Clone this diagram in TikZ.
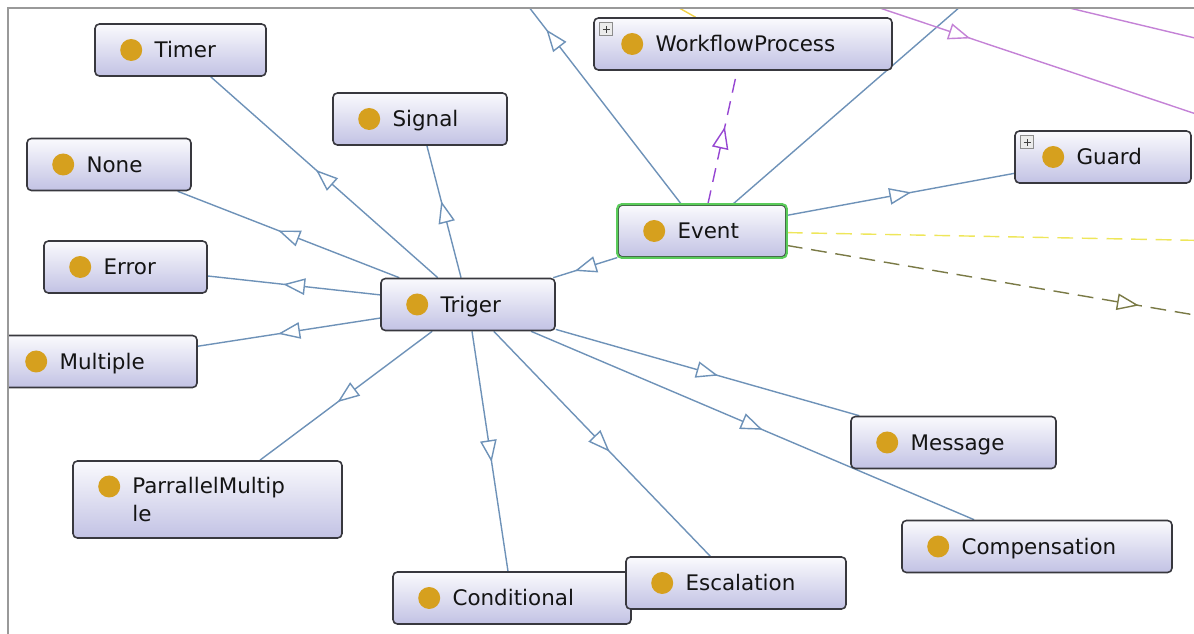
\documentclass[tikz,border=0pt]{standalone}
\usepackage{fontspec}
\setmainfont{DejaVu Sans}
\usetikzlibrary{arrows.meta,decorations.markings}
\pgfdeclarelayer{edges}
\pgfsetlayers{edges,main}

\definecolor{edgeblue}{RGB}{110,146,184}
\definecolor{boxline}{RGB}{56,56,62}
\definecolor{boxtop}{RGB}{250,250,253}
\definecolor{boxbot}{RGB}{194,194,228}
\definecolor{dotgold}{RGB}{214,160,30}
\definecolor{evgreen}{RGB}{90,204,90}
\definecolor{lilac}{RGB}{196,130,214}
\definecolor{dashviolet}{RGB}{150,70,210}
\definecolor{paleyellow}{RGB}{238,230,90}
\definecolor{darkolive}{RGB}{122,122,70}

\newcommand\px{0.02cm}
% class box: [offset] name, centre, width, text
\newcommand\owlcls[5][0]{%
  \node[clsbox,minimum width=#4*\px] (#2) at (#3) {};
  \fill[dotgold] ([xshift=(37+#1)*\px]#2.west) circle[radius=0.22cm];
  \node[clstext] (#2-txt) at ([shift={(60+#1,8)}]#2.west) {#5};}
\newcommand\plusicon[1]{%
  \node[plusbox] (#1-plus) at ([shift={(13,12)}]#1.north west) {};
  \draw[black!75,line width=0.5pt] ([xshift=-3.5*\px]#1-plus.center) -- ([xshift=3.5*\px]#1-plus.center)
     ([yshift=-3.5*\px]#1-plus.center) -- ([yshift=3.5*\px]#1-plus.center);}

\begin{document}
\begin{tikzpicture}[x=0.02cm,y=-0.02cm,
    clsbox/.style={draw=boxline,line width=0.9pt,rounded corners=2.5pt,top color=boxtop,bottom color=boxbot,minimum height=52*\px,inner sep=0pt},
    clstext/.style={anchor=base west,inner sep=0pt,text=black!92,font=\fontsize{12.2}{15}\selectfont},
    plusbox/.style={draw=black!45,fill=black!8,line width=0.4pt,minimum size=13*\px,inner sep=0pt},
    midtip/.style={postaction=decorate,decoration={markings,mark=at position #1 with {\arrow[xshift=0.22cm]{Triangle[fill=white,length=0.44cm,width=0.33cm]}}}},
    midtip/.default=0.5,
    isa/.style={draw=edgeblue,line width=0.8pt,midtip=#1},isa/.default=0.5]
  \useasboundingbox (0,0) rectangle (1194,634);
  \begin{scope}
    \clip (8,8) rectangle (1194,634);
    \owlcls{timer}{180.5,50}{171}{Timer}
    \owlcls{signal}{420,119}{174}{Signal}
    \owlcls{none}{109,164.5}{164}{None}
    \owlcls{error}{125.5,267}{163}{Error}
    \owlcls{triger}{468,304.5}{174}{Triger}
    \owlcls[-1]{multiple}{99,361.5}{196}{Multiple}
    \owlcls{conditional}{512,598}{238}{Conditional}
    \owlcls{escalation}{736,583}{220}{Escalation}
    \owlcls{message}{953.5,442.5}{205}{Message}
    \owlcls{compensation}{1037,546.5}{270}{Compensation}
    \owlcls[2]{workflow}{743,44}{298}{WorkflowProcess}
    \plusicon{workflow}
    \owlcls[2]{guard}{1103,157}{176}{Guard}
    \plusicon{guard}
    \owlcls{event}{702,231}{168}{Event}
    \draw[evgreen,line width=1.2pt,rounded corners=2.5pt] (event.south west) rectangle (event.north east);
    % two-line class
    \node[clsbox,minimum width=269*\px,minimum height=77*\px] (parmult) at (207.5,499.5) {};
    \fill[dotgold] ([shift={(37,-13)}]parmult.west) circle[radius=0.22cm];
    \node[clstext] (parmult-txt) at (132,494) {ParrallelMultip};
    \node[clstext] (parmult-txt2) at (132,522) {le};
  \end{scope}
  \begin{pgfonlayer}{edges}
  \begin{scope}
    \clip (8,8) rectangle (1194,634);
    \coordinate (offnw) at (508,-20);
    \coordinate (offne) at (991,-20);
    \coordinate (offyel) at (1230,241);
    \coordinate (offolive) at (1230,321);
    \coordinate (lilacA1) at (826,-10);
    \coordinate (lilacA2) at (1220,122);
    \coordinate (lilacB1) at (994,-10);
    \coordinate (lilacB2) at (1220,44);
    \coordinate (yelltop) at (665,0);
    \foreach \sub in {timer,signal,none,error,multiple,parmult,conditional,escalation,message,compensation}
      \draw[isa] (triger) -- (\sub);
    \draw[isa] (event) -- (triger);
    \draw[isa] (event) -- (guard);
    \draw[isa=0.74] (event) -- (offnw);
    \draw[edgeblue,line width=0.8pt] (event) -- (offne);
    \draw[dashviolet,line width=0.8pt,dash pattern=on 8pt off 5pt,midtip] (event) -- (workflow);
    \draw[paleyellow,line width=0.8pt,dash pattern=on 9pt off 5pt] (event) -- (offyel);
    \draw[darkolive,line width=0.8pt,dash pattern=on 9pt off 5pt,midtip=0.77] (event) -- (offolive);
    \draw[lilac,line width=0.8pt,midtip=0.34] (lilacA1) -- (lilacA2);
    \draw[lilac,line width=0.8pt] (lilacB1) -- (lilacB2);
    \draw[paleyellow!80!orange,line width=0.8pt] (yelltop) -- (workflow);
  \end{scope}
  \end{pgfonlayer}
  \draw[black!40,line width=1.2pt] (8,634) -- (8,8) -- (1194,8);
\end{tikzpicture}
\end{document}
